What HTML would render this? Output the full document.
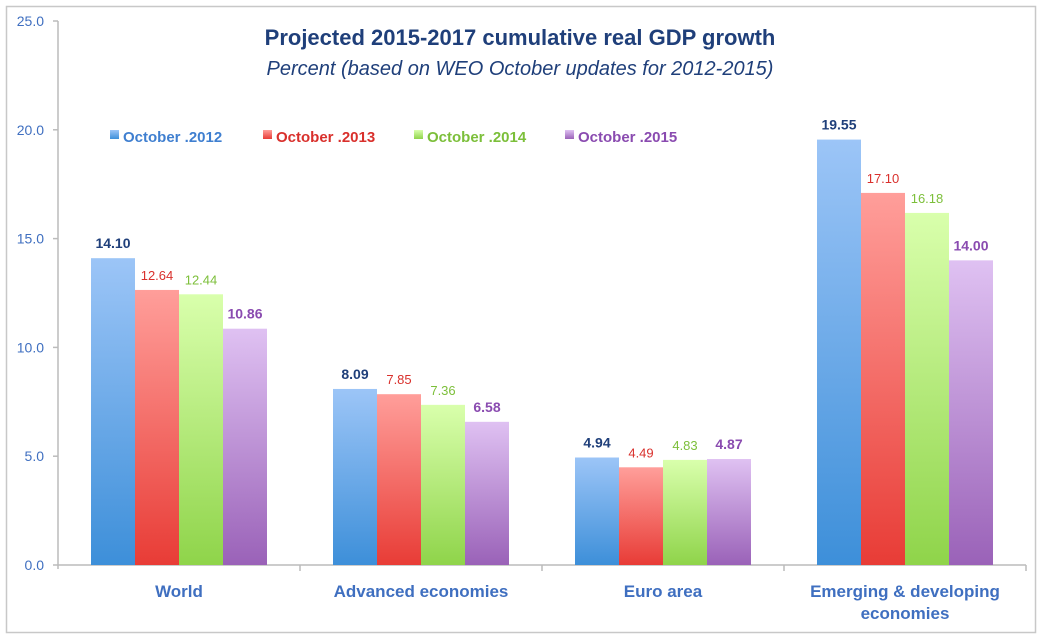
<!DOCTYPE html>
<html><head><meta charset="utf-8"><style>
body{margin:0;background:#fff;font-family:"Liberation Sans",sans-serif}
svg text{font-family:"Liberation Sans",sans-serif}
</style></head><body>
<svg id="c" width="1042" height="639" xmlns="http://www.w3.org/2000/svg">
<defs>
<linearGradient id="g0" x1="0" y1="0" x2="0" y2="1"><stop offset="0" stop-color="#9cc5f7"/><stop offset="1" stop-color="#3d8fd9"/></linearGradient>
<linearGradient id="g1" x1="0" y1="0" x2="0" y2="1"><stop offset="0" stop-color="#ff9e9a"/><stop offset="1" stop-color="#e83c36"/></linearGradient>
<linearGradient id="g2" x1="0" y1="0" x2="0" y2="1"><stop offset="0" stop-color="#d9ffac"/><stop offset="1" stop-color="#8fd44a"/></linearGradient>
<linearGradient id="g3" x1="0" y1="0" x2="0" y2="1"><stop offset="0" stop-color="#dfc1f2"/><stop offset="1" stop-color="#9a62b8"/></linearGradient>
</defs>
<rect x="6.5" y="6.5" width="1029" height="626" fill="#fff" stroke="#c8c8c8" stroke-width="1.5"/>
<text x="520" y="45" text-anchor="middle" font-size="22" font-weight="bold" fill="#1f3f7a">Projected 2015-2017 cumulative real GDP growth</text>
<text x="520" y="75" text-anchor="middle" font-size="20" font-style="italic" fill="#1f3f7a">Percent (based on WEO October updates for 2012-2015)</text>
<g id="axes"></g>
<g id="bars"></g>
<g id="legend"></g>
</svg>
<script>
const categories=["World","Advanced economies","Euro area","Emerging & developing|economies"];
const series=["October .2012","October .2013","October .2014","October .2015"];
const v2012=[14.10,8.09,4.94,19.55];
const v2013=[12.64,7.85,4.49,17.10];
const v2014=[12.44,7.36,4.83,16.18];
const v2015=[10.86,6.58,4.87,14.00];
const yTicks=[0,5,10,15,20,25];
const values=[v2012,v2013,v2014,v2015];
const NS="http://www.w3.org/2000/svg";
const x0=58,y0=565,pxu=21.76,gw=242,bw=44,gap=33;
const y=v=>y0-v*pxu;
const labelCol=["#1f3f7a","#d9302c","#7cbf3a","#8a4bb0"];
const legendCol=["#3f7fd0","#d9302c","#7cbf3a","#8a4bb0"];
function mk(t,a,p){const e=document.createElementNS(NS,t);for(const k in a)e.setAttribute(k,a[k]);p.appendChild(e);return e;}
const ax=document.getElementById('axes'),bg=document.getElementById('bars'),lg=document.getElementById('legend');
let l=mk('line',{x1:x0,y1:y(25),x2:x0,y2:y0+4,stroke:'#bbb','stroke-width':1.5},ax);


l=mk('line',{x1:x0,y1:y0,x2:x0+4*gw,y2:y0,stroke:'#bbb','stroke-width':1.5},ax);


yTicks.forEach(t=>{
 mk('line',{x1:x0-5,y1:y(t),x2:x0,y2:y(t),stroke:'#bbb','stroke-width':1.5},ax);
 const tx=mk('text',{x:x0-14,y:y(t)+5,'text-anchor':'end','font-size':14,fill:'#3f6fc0'},ax);
 tx.textContent=t.toFixed(1);
 
 
});
for(let i=1;i<=4;i++){mk('line',{x1:x0+i*gw,y1:y0,x2:x0+i*gw,y2:y0+6,stroke:'#bbb','stroke-width':1.5},ax);}
categories.forEach((c,i)=>{
 const cx=x0+i*gw+gw/2;
 c.split('|').forEach((ln,j)=>{
  const tx=mk('text',{x:cx,y:597+j*22,'text-anchor':'middle','font-size':17,'font-weight':'bold',fill:'#3f6fc0'},ax);
  tx.textContent=ln;
  
  
 });
 values.forEach((vals,s)=>{
  const bx=x0+i*gw+gap+s*bw,v=vals[i];
  const r=mk('rect',{x:bx,y:y(v),width:bw,height:y0-y(v),fill:`url(#g${s})`},bg);
  
  
  const tx=mk('text',{x:bx+bw/2,y:y(v)-10,'text-anchor':'middle','font-size':s==0||s==3?14:13,'font-weight':s==0||s==3?'bold':'normal',fill:labelCol[s]},bg);
  tx.textContent=v.toFixed(2);
  
  
 });
});
const lx=[110,263,414,565];
series.forEach((s,i)=>{
 const r=mk('rect',{x:lx[i],y:130,width:9,height:9,fill:`url(#g${i})`},lg);
 
 
 const tx=mk('text',{x:lx[i]+13,y:142,'font-size':15,'font-weight':'bold',fill:legendCol[i]},lg);
 tx.textContent=s;
 
 
});
</script>
</body></html>
